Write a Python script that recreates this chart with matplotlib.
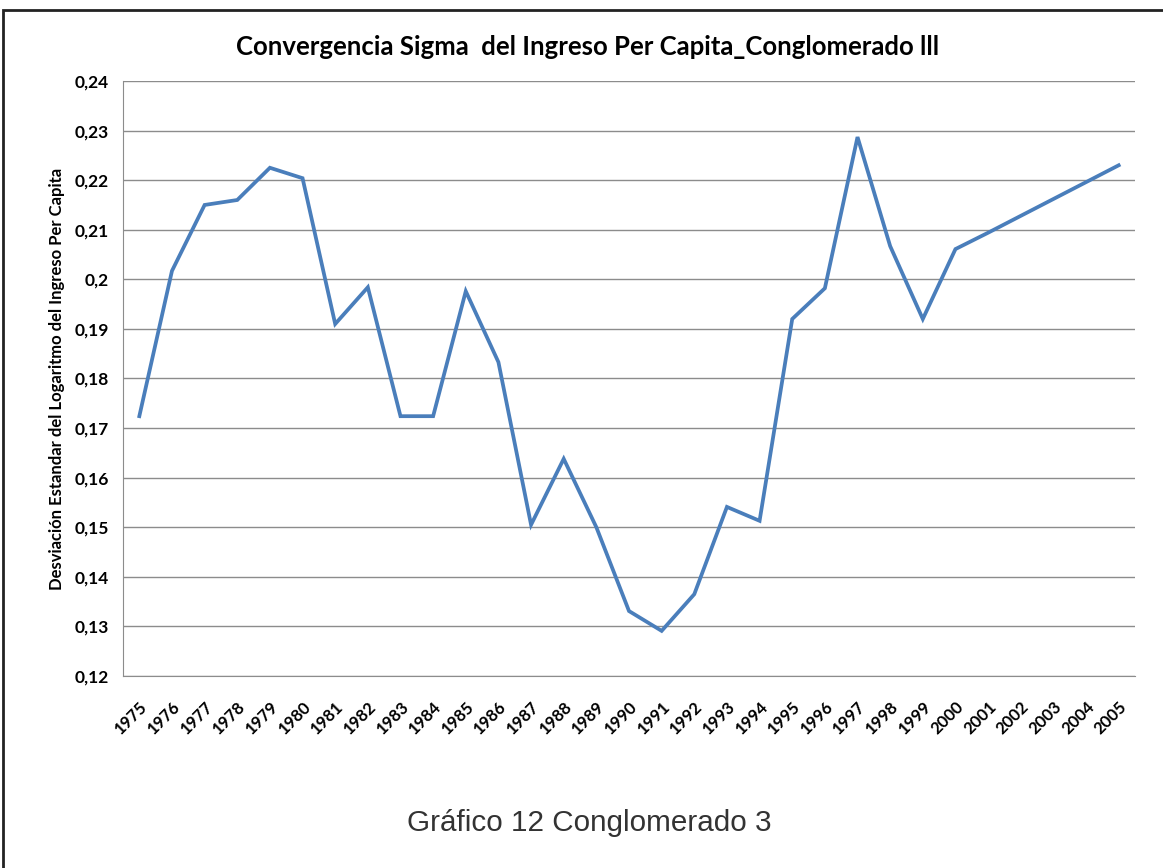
import matplotlib.pyplot as plt
from matplotlib.patches import Rectangle

# Datos
years = [str(y) for y in range(1975, 2006)]
sigma = [0.1724, 0.2017, 0.2150, 0.2160, 0.2225, 0.2204, 0.1910, 0.1984,
         0.1724, 0.1724, 0.1976, 0.1833, 0.1505, 0.1638, 0.1500, 0.1331,
         0.1291, 0.1365, 0.1541, 0.1513, 0.1920, 0.1982, 0.2287, 0.2067,
         0.1920, 0.2061, 0.2094, 0.2128, 0.2162, 0.2196, 0.2230]
yticks = [0.12, 0.13, 0.14, 0.15, 0.16, 0.17, 0.18, 0.19, 0.20, 0.21, 0.22, 0.23, 0.24]
ytick_labels = ['0,12', '0,13', '0,14', '0,15', '0,16', '0,17', '0,18', '0,19',
                '0,2', '0,21', '0,22', '0,23', '0,24']


def main():
    fig = plt.figure(figsize=(11.63, 8.68), dpi=100)
    ax = fig.add_axes([123 / 1163, 1 - 676 / 868, 1012 / 1163, 595 / 868])

    x = list(range(len(years)))
    ax.plot(x, sigma, color='#4a7ebb', linewidth=2.7, solid_joinstyle='miter')

    ax.set_xlim(-0.5, len(years) - 0.5)
    ax.set_ylim(0.12, 0.24)
    ax.set_yticks(yticks)
    ax.set_yticklabels(ytick_labels, fontsize=12.5, fontweight='bold', family='Lato')
    ax.set_xticks(x)
    ax.set_xticklabels(years, rotation=45, ha='right', rotation_mode='anchor',
                       fontsize=12, fontweight='bold', family='Lato')
    ax.tick_params(axis='both', length=0, pad=10)
    ax.tick_params(axis='x', pad=16)

    # grid
    ax.grid(True, axis='y', color='#8c8c8c', linewidth=1)
    ax.set_axisbelow(True)
    for side in ['top', 'right']:
        ax.spines[side].set_visible(False)
    ax.spines['left'].set_color('#8c8c8c')
    ax.spines['bottom'].set_color('#8c8c8c')

    ax.set_ylabel('Desviación Estandar del Logaritmo del Ingreso Per Capita',
                  fontsize=12, fontweight='bold', family='Lato', labelpad=7)

    fig.text(588 / 1163, 1 - 47 / 868,
             'Convergencia Sigma  del Ingreso Per Capita_Conglomerado lll',
             ha='center', va='center', fontsize=18.5, fontweight='bold', family='Lato')

    fig.text(589 / 1163, 1 - 823 / 868, 'Gráfico 12 Conglomerado 3',
             ha='center', va='center', fontsize=21.3, color='#333333',
             family='Liberation Sans')

    # marco
    fig.patches.append(Rectangle((3 / 1163, -0.05), 1.2, 1.05 - 10 / 868,
                                 transform=fig.transFigure, fill=False,
                                 edgecolor='#222222', linewidth=2))

    fig.savefig('out.png', dpi=100)


if __name__ == "__main__":
    main()
